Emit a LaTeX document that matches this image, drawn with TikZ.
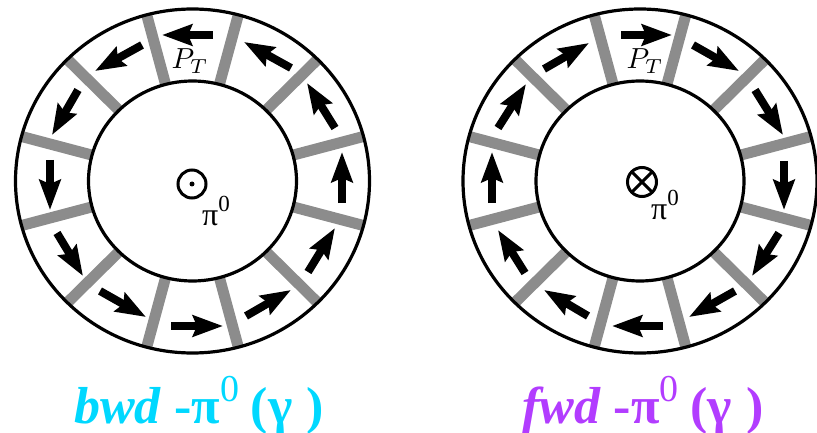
\documentclass[tikz,border=0pt]{standalone}
\usepackage{graphicx}
\usepackage{fontspec}
\setmainfont{Liberation Serif}
\usetikzlibrary{arrows.meta}
\definecolor{spokegray}{HTML}{8C8C8C}
\definecolor{bwdcyan}{HTML}{00D8FF}
\definecolor{fwdpurple}{HTML}{B23CFF}
\tikzset{
  spoke/.style={draw=spokegray,line width=11pt},
  ringline/.style={draw=black,line width=3.2pt},
  flow/.style={draw=black,line width=8pt,-{Stealth[length=30pt,width=21pt,inset=4pt]}},
  axismark/.style={draw=black,line width=3pt},
  smalllabel/.style={inner sep=0pt,text=black},
  caption/.style={inner sep=0pt,anchor=base west,font=\fontsize{52}{52}\selectfont\bfseries}
}
\newcommand{\ringbase}[2]{%
  \foreach \a in {15,45,...,345}{
    \draw[spoke] (#1,#2) ++(\a:104pt and 100pt) -- ++(\a:73pt and 72pt);
  }
  \draw[ringline] (#1,#2) ellipse [x radius=177pt,y radius=172pt];
  \draw[ringline] (#1,#2) ellipse [x radius=104pt,y radius=100pt];
}
\newcommand{\capzero}{\raisebox{0.42em}{\fontsize{38}{38}\selectfont\mdseries 0}}
\newcommand{\piz}{\fontsize{32}{32}\selectfont π\raisebox{0.42em}{\fontsize{23}{23}\selectfont 0}}
\begin{document}
\begin{tikzpicture}[x=1pt,y=-1pt]
\useasboundingbox (0,0) rectangle (817,433);
\ringbase{192.5}{181}
\ringbase{640}{181}
% left ring arrows
\foreach \tx/\ty/\hx/\hy [count=\i] in {
  213/35/162/35, 142/45/95/71, 78/90/52/135, 50/160/50/210,
  57/233/83/276, 100/291/146/317, 171/326/223/326, 246/316/291/290,
  308/272/335/228, 342/203/342/152, 335/128/307/83, 291/68/244/42}{
  \coordinate (lt\i) at (\tx,\ty);
  \coordinate (lh\i) at (\hx,\hy);
  \draw[flow] (lt\i) -- (lh\i);
}
% right ring arrows
\foreach \tx/\ty/\hx/\hy [count=\i] in {
  621/35/672/35, 693/45/739/71, 755/90/783/135, 784/161/784/210,
  779/233/752/276, 735/291/689/317, 663/326/612/326, 588/316/544/290,
  525/273/498/230, 492/203/492/152, 498/128/526/84, 544/69/589/43}{
  \coordinate (rt\i) at (\tx,\ty);
  \coordinate (rh\i) at (\hx,\hy);
  \draw[flow] (rt\i) -- (rh\i);
}
% out-of-plane marks
\draw[axismark] (192,184) circle [radius=14pt];
\fill[black] (192,184) circle [radius=2.5pt];
\draw[axismark] (642,182) circle [radius=14.5pt];
\draw[axismark] (642,182) ++(45:14.5pt) -- ++(225:29pt);
\draw[axismark] (642,182) ++(135:14.5pt) -- ++(-45:29pt);
% labels
\node[smalllabel] (ptl) at (190,61) {\scalebox{2.9}{$P_T$}};
\node[smalllabel] (ptr) at (645,61) {\scalebox{2.9}{$P_T$}};
\node[smalllabel] (pil) at (216,211) {\piz};
\node[smalllabel] (pir) at (665,205) {\piz};
\node[caption,text=bwdcyan] (capl) at (74,423) {\textit{bwd} -π\capzero\hspace{0.22em}(γ\hspace{0.02em} )};
\node[caption,text=fwdpurple] (capr) at (522,423) {\textit{fwd} -π\capzero\hspace{0.22em}(γ\hspace{0.04em} )};
\end{tikzpicture}
\end{document}
